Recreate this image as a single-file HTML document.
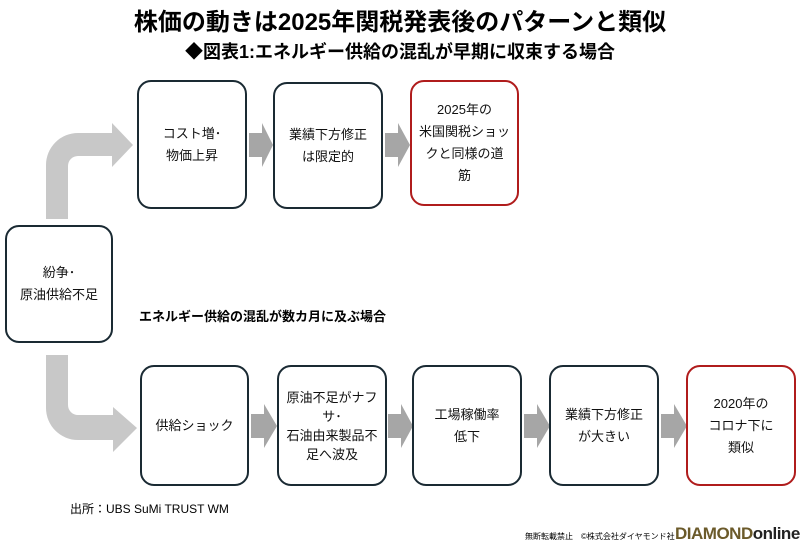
<!DOCTYPE html>
<html><head><meta charset="utf-8"><style>
body{margin:0;width:800px;height:550px;background:#fff;position:relative;overflow:hidden;font-family:"Liberation Sans","Noto Sans CJK JP",sans-serif;}
.t{position:absolute;left:0;width:800px;text-align:center;font-weight:bold;color:#000}
.b{position:absolute;box-sizing:border-box;border:2px solid #1a2a33;border-radius:14px;background:#fff;display:flex;align-items:center;justify-content:center;text-align:center;font-size:13px;line-height:22px;color:#111}
.r{border-color:#b01c1c}
.a{position:absolute}
</style></head><body>
<div class="t" style="top:2px;font-size:24px;">株価の動きは2025年関税発表後のパターンと類似</div>
<div class="t" style="top:38px;font-size:18px;">◆図表1:エネルギー供給の混乱が早期に収束する場合</div>
<svg class="a" style="left:0;top:0" width="800" height="550">
<path d="M46 219 V165 A32 32 0 0 1 78 133 H112 V123 L133 145 L112 167 V156 H78 A10 10 0 0 0 68 166 V219 Z" fill="#c8c8c8"/>
<path d="M46 355 V408 A32 32 0 0 0 78 440 H113 V452 L137 428 L113 407 V415 H78 A10 10 0 0 1 68 405 V355 Z" fill="#c8c8c8"/>
<g fill="#a6a6a6">
<polygon points="249,133 262,133 262,123 273,145 262,167 262,157 249,157"/>
<polygon points="385,133 398,133 398,123 410,145 398,167 398,157 385,157"/>
<polygon points="251,414 264,414 264,404 277,426 264,448 264,438 251,438"/>
<polygon points="388,414 401,414 401,404 413,426 401,448 401,438 388,438"/>
<polygon points="524,414 537,414 537,404 550,426 537,448 537,438 524,438"/>
<polygon points="661,414 674,414 674,404 687,426 674,448 674,438 661,438"/>
</g>
</svg>
<div class="b" style="left:137px;top:80px;width:110px;height:129px;">コスト増･<br>物価上昇</div>
<div class="b" style="left:273px;top:82px;width:110px;height:127px;">業績下方修正<br>は限定的</div>
<div class="b r" style="left:410px;top:80px;width:109px;height:126px;">2025年の<br>米国関税ショッ<br>クと同様の道<br>筋</div>
<div class="b" style="left:5px;top:225px;width:108px;height:118px;">紛争･<br>原油供給不足</div>
<div style="position:absolute;left:139px;top:306px;font-size:13px;font-weight:bold">エネルギー供給の混乱が数カ月に及ぶ場合</div>
<div class="b" style="left:140px;top:365px;width:109px;height:121px;">供給ショック</div>
<div class="b" style="left:277px;top:365px;width:110px;height:121px;line-height:19px">原油不足がナフ<br>サ･<br>石油由来製品不<br>足へ波及</div>
<div class="b" style="left:412px;top:365px;width:110px;height:121px;">工場稼働率<br>低下</div>
<div class="b" style="left:549px;top:365px;width:110px;height:121px;">業績下方修正<br>が大きい</div>
<div class="b r" style="left:686px;top:365px;width:110px;height:121px;">2020年の<br>コロナ下に<br>類似</div>
<div style="position:absolute;left:70px;top:500px;font-size:12px;">出所：UBS SuMi TRUST WM</div>
<div style="position:absolute;left:525px;top:531px;font-size:8px;">無断転載禁止　©株式会社ダイヤモンド社</div>
<div style="position:absolute;left:675px;top:524px;font-size:17px;font-weight:bold;letter-spacing:-0.5px"><span style="color:#6b5a2a">DIAMOND</span><span style="color:#222">online</span></div>
</body></html>
